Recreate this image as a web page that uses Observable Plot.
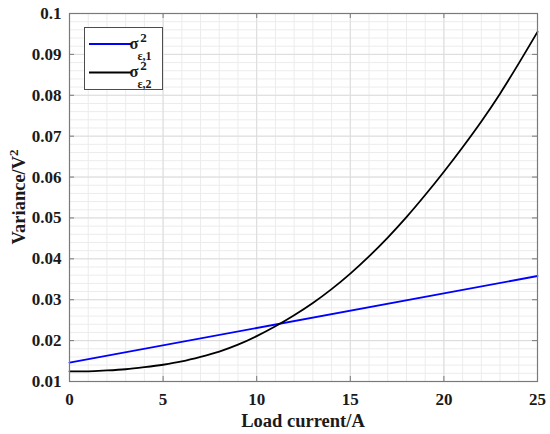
<!DOCTYPE html>
<html><head><meta charset="utf-8">
<script src="https://cdn.jsdelivr.net/npm/d3@7"></script>
<script src="https://cdn.jsdelivr.net/npm/@observablehq/plot@0.6"></script>
<style>body{margin:0;background:#fff}</style>
</head><body><div id="chart"></div>
<script>
// Data
const current = [0,1,2,3,4,5,6,7,8,9,10,11,12,13,14,15,16,17,18,19,20,21,22,23,24,25];
const variance2 = [0.0125,0.0125,0.0127,0.0130,0.0135,0.0141,0.0149,0.0160,0.0173,0.0190,0.0211,0.0235,0.0262,0.0292,0.0326,0.0364,0.0406,0.0452,0.0502,0.0556,0.0613,0.0673,0.0736,0.0804,0.0878,0.0955];
const current1 = [0,25];
const variance1 = [0.0146,0.0358];
const xTicks = [0,5,10,15,20,25];
const yTicks = [0.01,0.02,0.03,0.04,0.05,0.06,0.07,0.08,0.09,0.1];
const yTickLabels = ["0.01","0.02","0.03","0.04","0.05","0.06","0.07","0.08","0.09","0.1"];
const xMinor = d3.range(0,26,1);
const yMinor = d3.range(0,46).map(i => 0.01 + i*0.002);
const xLabel = "Load current/A";
const yLabelMain = "Variance/V";
const yLabelSup = "2";
const legendSubs = ["ε,1","ε,2"];
const colors = ["#0000ff","#000000"];

const s1 = current1.map((c,i)=>({x:c,y:variance1[i]}));
const s2 = current.map((c,i)=>({x:c,y:variance2[i]}));

const W=550,H=434,mL=69,mR=13,mT=13,mB=53;
const fw = W-mL-mR, fh = H-mT-mB;
const axisCol = "#7a7a7a";
const FONT = "'Liberation Serif', 'Times New Roman', serif";

const plot = Plot.plot({
  width: W, height: H,
  marginLeft: mL, marginRight: mR, marginTop: mT, marginBottom: mB,
  style: {fontFamily: FONT, fontWeight: "bold", fontSize: "17px", color: "#1a1a1a", background: "#fff"},
  x: {domain: [0,25]},
  y: {domain: [0.01,0.1]},
  marks: [
    Plot.ruleX(xMinor, {x: d=>d, stroke: "#ececec", strokeWidth: 1}),
    Plot.ruleY(yMinor, {y: d=>d, stroke: "#ececec", strokeWidth: 1}),
    Plot.ruleX(xTicks, {x: d=>d, stroke: "#dcdcdc", strokeWidth: 1}),
    Plot.ruleY(yTicks, {y: d=>d, stroke: "#dcdcdc", strokeWidth: 1}),
    Plot.line(s1, {x:"x", y:"y", stroke: colors[0], strokeWidth: 1.8}),
    Plot.line(s2, {x:"x", y:"y", stroke: colors[1], strokeWidth: 1.8, curve: "monotone-x"}),
    Plot.frame({stroke: axisCol, strokeWidth: 1.2}),
    Plot.tickX(xTicks, {x: d=>d, insetTop: fh-5, stroke: axisCol}),
    Plot.tickX(xTicks, {x: d=>d, insetBottom: fh-5, stroke: axisCol}),
    Plot.tickY(yTicks, {y: d=>d, insetRight: fw-5, stroke: axisCol}),
    Plot.tickY(yTicks, {y: d=>d, insetLeft: fw-5, stroke: axisCol}),
    Plot.axisX({ticks: xTicks, tickSize: 0, tickPadding: 11, label: null, fontSize: 17, fontWeight: "bold"}),
    Plot.axisY({ticks: yTicks, tickSize: 0, tickPadding: 8, label: null, fontSize: 17, fontWeight: "bold", tickFormat: (d)=>yTickLabels[yTicks.indexOf(d)]})
  ]
});
document.getElementById("chart").appendChild(plot);

const svg = d3.select(plot);
// make tick labels the reference size
svg.selectAll('g[aria-label="x-axis tick label"], g[aria-label="y-axis tick label"]')
  .attr("font-size", 17).attr("font-weight", "bold").attr("font-family", FONT)
  .selectAll("text").style("font-size", "17px");

// Axis titles
svg.append("text").attr("x", mL + fw/2).attr("y", 427).attr("text-anchor","middle")
  .attr("font-family", FONT).attr("font-weight","bold").attr("font-size",18.5).attr("fill","#1a1a1a").text(xLabel);
const yt = svg.append("text").attr("transform", `translate(25,${mT + fh/2}) rotate(-90)`).attr("text-anchor","middle")
  .attr("font-family", FONT).attr("font-weight","bold").attr("font-size",18.5).attr("fill","#1a1a1a");
yt.append("tspan").text(yLabelMain);
yt.append("tspan").attr("dy",-7).attr("font-size",13).text(yLabelSup);

// Legend
const g = svg.append("g").attr("font-family", FONT).attr("font-weight","bold").attr("fill","#1a1a1a");
g.append("rect").attr("x",84.5).attr("y",27.5).attr("width",78).attr("height",62).attr("fill","#fff").attr("stroke","#4d4d4d").attr("stroke-width",1);
const rows = [44, 72.5];
rows.forEach((y,i)=>{
  g.append("line").attr("x1",89).attr("x2",132).attr("y1",y).attr("y2",y).attr("stroke",colors[i]).attr("stroke-width",1.8);
  g.append("text").attr("x",134).attr("y",y+4.5).attr("font-size",16.5).text("σ");
  g.append("text").attr("x",143.5).attr("y",y-2.5).attr("font-size",13).text("2");
  g.append("text").attr("x",144.5).attr("y",y+15.5).attr("font-size",12).text(legendSubs[i]);
});
</script></body></html>
